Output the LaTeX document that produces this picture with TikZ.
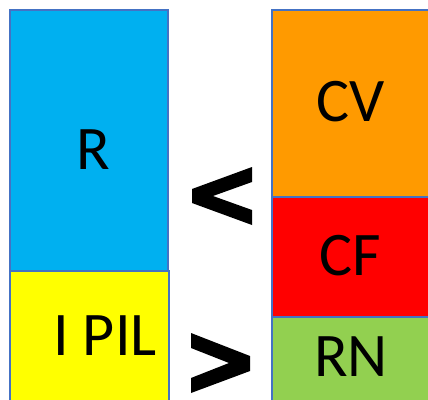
\documentclass[tikz,border=0pt]{standalone}
\usepackage{fontspec}
\setmainfont{Carlito}
\definecolor{rblue}{HTML}{00B0F0}
\definecolor{pyellow}{HTML}{FFFF00}
\definecolor{cvorange}{HTML}{FF9A00}
\definecolor{cfred}{HTML}{FF0000}
\definecolor{rngreen}{HTML}{92D050}
\definecolor{edge}{HTML}{4472C4}
\tikzset{
  blk/.style={draw=edge, line width=1.3pt},
  lbl/.style={inner sep=0pt, anchor=center, font=\fontsize{62}{62}\selectfont},
  sym/.style={fill=black, draw=none}
}
\begin{document}
\begin{tikzpicture}[x=1pt, y=-1pt]
\useasboundingbox (0,0) rectangle (428,399);
\clip (0,0) rectangle (428,399);
% left column
\draw[blk, fill=rblue] (10,10) rectangle (168,271);
\draw[blk, fill=pyellow] (10,271) rectangle (169,410);
% right column
\draw[blk, fill=cvorange] (272,10) rectangle (440,197);
\draw[blk, fill=cfred] (272,197) rectangle (440,317);
\draw[blk, fill=rngreen] (272,317) rectangle (440,410);
% labels
\node[lbl] (r) at (93,150) {R};
\node[lbl] (ipil) at (105,336) {I PIL};
\node[lbl] (cv) at (351,102) {CV};
\node[lbl] (cf) at (350,256) {CF};
\node[lbl] (rn) at (351,357) {RN};
% comparison signs
\fill[sym] (252,167) -- (252,182) -- (213,196) -- (252,210) -- (252,225) -- (192,203) -- (192,189) -- cycle;
\fill[sym] (191,333) -- (250,356) -- (250,371) -- (191,393) -- (191,378) -- (229,363) -- (191,348) -- cycle;
\end{tikzpicture}
\end{document}
